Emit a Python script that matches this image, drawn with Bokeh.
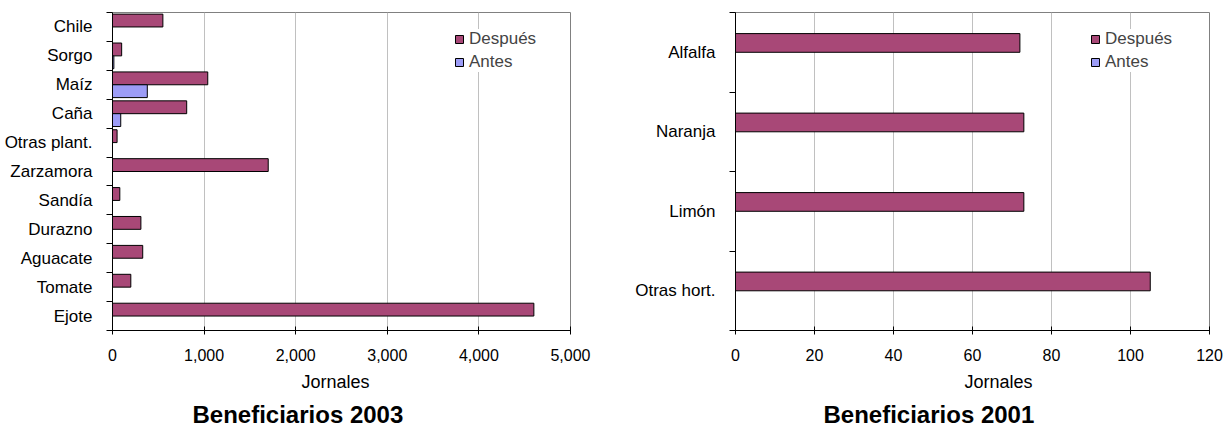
from bokeh.plotting import figure
from bokeh.models import (ColumnDataSource, Range1d, FixedTicker, NumeralTickFormatter,
                          Legend, LegendItem, Title)
from bokeh.transform import dodge
from bokeh.layouts import row
from bokeh.embed import file_html
from bokeh.resources import INLINE

# ---------------- data ----------------
cats_2003 = ["Chile", "Sorgo", "Maíz", "Caña", "Otras plant.", "Zarzamora",
             "Sandía", "Durazno", "Aguacate", "Tomate", "Ejote"]
despues_2003 = [550, 100, 1040, 810, 50, 1700, 80, 310, 330, 200, 4600]
antes_2003 = [0, 15, 380, 90, 0, 0, 0, 0, 0, 0, 0]
xticks_2003 = [0, 1000, 2000, 3000, 4000, 5000]

cats_2001 = ["Alfalfa", "Naranja", "Limón", "Otras hort."]
despues_2001 = [72, 73, 73, 105]
antes_2001 = [0, 0, 0, 0]
xticks_2001 = [0, 20, 40, 60, 80, 100, 120]

FONT = "Liberation Sans"
C_DESP = "#a84877"
C_ANTES = "#9c9cf6"


def make_chart(cats, desp, antes, xticks, xmax, fmt, title, bar_h, off,
               width, height, mbl, mbr, mbt, mbb, leg_xy, jor_off, tit_off):
    n = len(cats)
    pos = [n - i - 0.5 for i in range(n)]
    src = ColumnDataSource(dict(cat=cats, pos=pos, desp=desp, antes=antes))
    p = figure(width=width, height=height, output_backend="svg", toolbar_location=None,
               x_range=Range1d(0, xmax), y_range=Range1d(0, n),
               min_border_left=mbl, min_border_right=mbr, min_border_top=mbt,
               min_border_bottom=mbb)
    p.outline_line_color = "#808080"
    p.outline_line_width = 1
    p.background_fill_color = "white"
    p.border_fill_color = "white"

    r1 = p.hbar(y=dodge("pos", off, range=p.y_range), right="desp", left=0, height=bar_h,
                source=src, fill_color=C_DESP, line_color="black", line_width=1)
    r2 = p.hbar(y=dodge("pos", -off, range=p.y_range), right="antes", left=0, height=bar_h,
                source=src, fill_color=C_ANTES, line_color="black", line_width=1)

    # x axis
    xa = p.xaxis[0]
    xa.ticker = FixedTicker(ticks=xticks)
    xa.formatter = NumeralTickFormatter(format=fmt)
    xa.axis_line_color = "black"
    xa.major_tick_line_color = "black"
    xa.major_tick_in = 4
    xa.major_tick_out = 4
    xa.minor_tick_line_color = None
    xa.major_label_standoff = 14
    xa.major_label_text_font = FONT
    xa.major_label_text_font_size = "16px"
    xa.major_label_text_color = "black"

    # y axis: labels at centres, tick marks at category boundaries
    ya = p.yaxis[0]
    ya.ticker = FixedTicker(ticks=pos, minor_ticks=list(range(n + 1)))
    ya.major_label_overrides = {pv: c for pv, c in zip(pos, cats)}
    ya.major_tick_line_color = None
    ya.major_tick_in = 0
    ya.major_tick_out = 0
    ya.minor_tick_line_color = "black"
    ya.minor_tick_in = 0
    ya.minor_tick_out = 6
    ya.axis_line_color = "black"
    ya.major_label_standoff = 14
    ya.major_label_text_font = FONT
    ya.major_label_text_font_size = "17px"
    ya.major_label_text_color = "black"

    p.xgrid.grid_line_color = "#c0c0c0"
    p.ygrid.grid_line_color = None

    legend = Legend(items=[LegendItem(label="Después", renderers=[r1]),
                           LegendItem(label="Antes", renderers=[r2])],
                    location=leg_xy, orientation="vertical",
                    glyph_width=10, glyph_height=10, label_height=20, spacing=3,
                    padding=3, margin=0, label_standoff=5,
                    label_text_font=FONT, label_text_font_size="17px",
                    border_line_color=None, background_fill_color="white",
                    background_fill_alpha=1.0)
    p.add_layout(legend, "center")

    p.add_layout(Title(text="Jornales", align="left", text_font=FONT,
                       text_font_size="18px", text_font_style="normal",
                       text_color="black", standoff=13, offset=jor_off), "below")
    p.add_layout(Title(text=title, align="left", text_font=FONT,
                       text_font_size="24px", text_font_style="bold",
                       text_color="black", standoff=0, offset=tit_off), "below")
    return p


p1 = make_chart(cats_2003, despues_2003, antes_2003, xticks_2003, 5000, "0,0",
                "Beneficiarios 2003", 0.444, 0.222,
                612, 427, 112, 42, 12, 92, (342, 258), 189, 80)
p2 = make_chart(cats_2001, despues_2001, antes_2001, xticks_2001, 120, "0",
                "Beneficiarios 2001", 0.235, 0.117,
                613, 427, 123, 16, 10, 93, (355, 258), 229, 88)

layout = row(p1, p2, spacing=0)
open("out.html", "w").write(file_html(layout, INLINE))
